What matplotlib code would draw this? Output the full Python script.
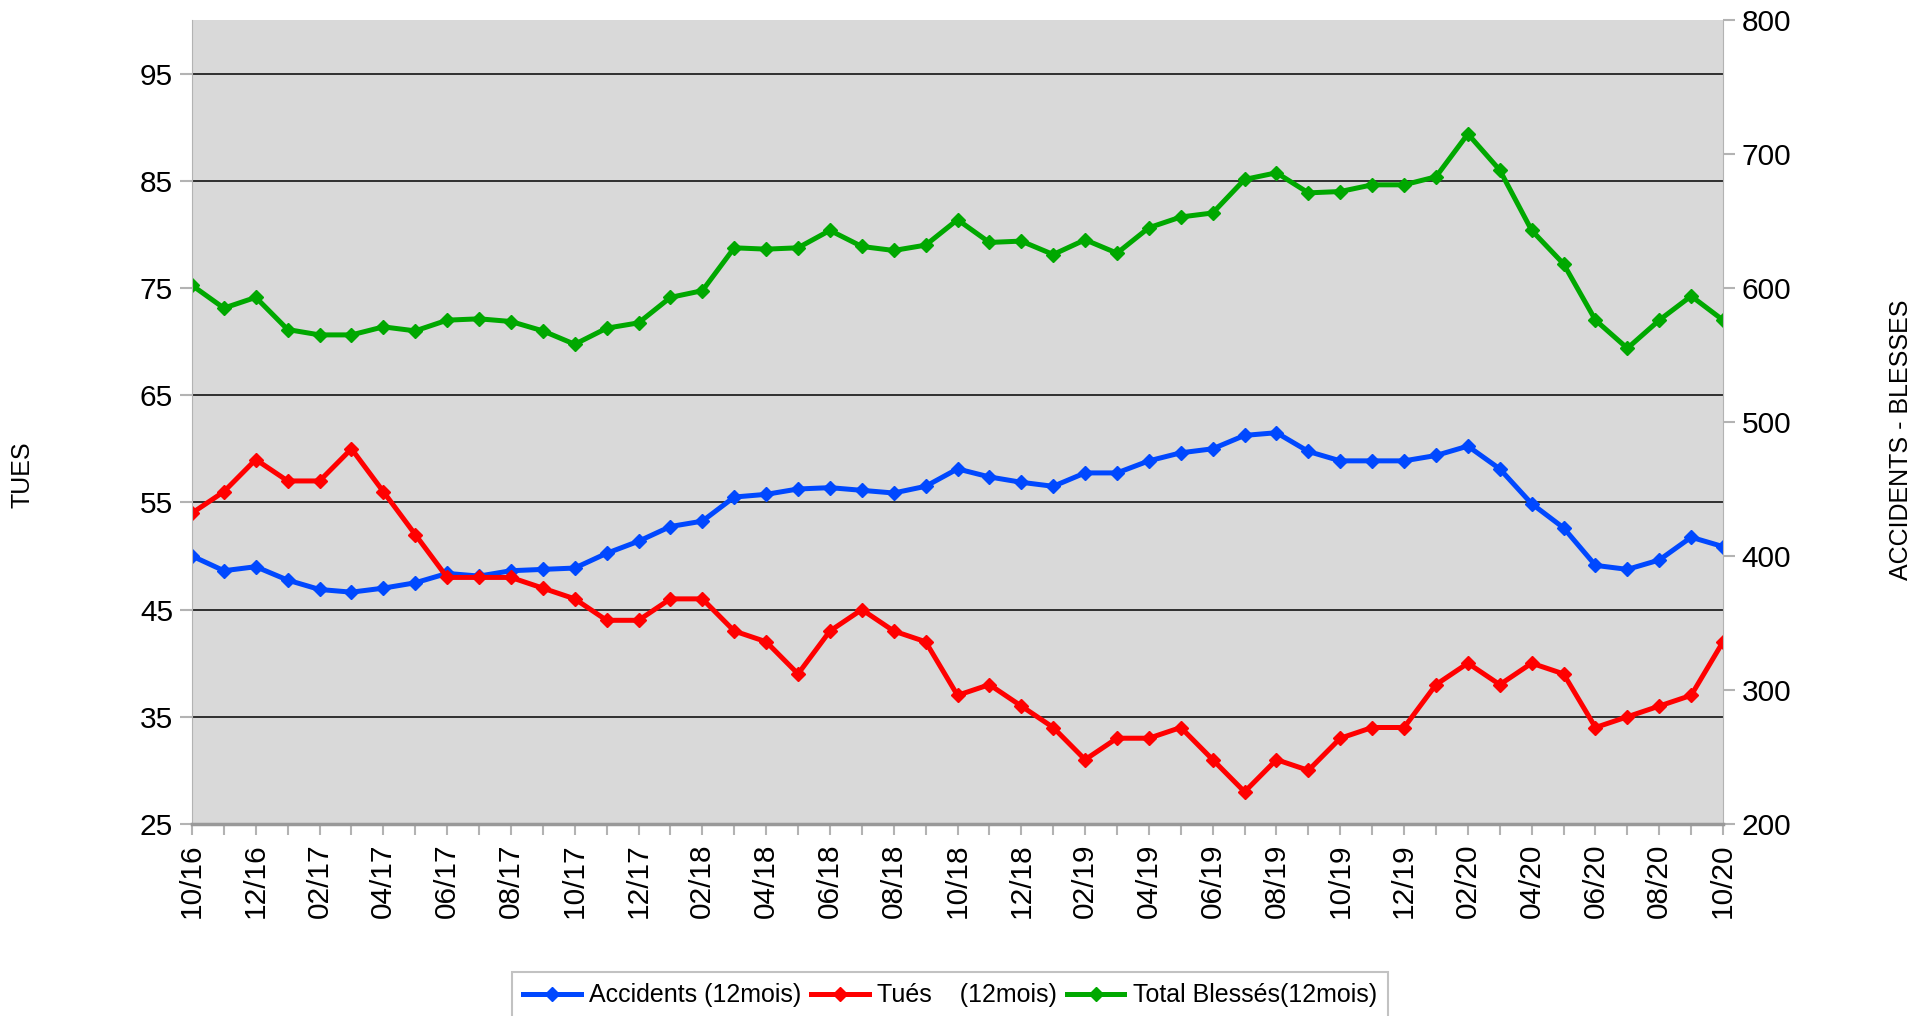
import numpy as np
import pandas as pd
import matplotlib
matplotlib.use('Agg')
import matplotlib.pyplot as plt

plt.rcParams['font.family'] = ['Liberation Sans', 'DejaVu Sans']

# ============================================================
# DONNEES (moyennes glissantes 12 mois)
# ============================================================
mois = list(pd.date_range('2016-10-01', periods=49, freq='MS').strftime('%m/%y'))

accidents = [400, 389, 392, 382, 375, 373, 376, 380, 387, 385, 389, 390, 391,
             402, 411, 422, 426, 444, 446, 450, 451, 449, 447, 452, 465,
             459, 455, 452, 462, 462, 471, 477, 480, 490, 492, 478, 471,
             471, 471, 475, 482, 465, 439, 421, 393, 390, 397, 414, 407]

tues = [54, 56, 59, 57, 57, 60, 56, 52, 48, 48, 48, 47, 46,
        44, 44, 46, 46, 43, 42, 39, 43, 45, 43, 42, 37,
        38, 36, 34, 31, 33, 33, 34, 31, 28, 31, 30, 33,
        34, 34, 38, 40, 38, 40, 39, 34, 35, 36, 37, 42]

blesses = [602, 585, 593, 569, 565, 565, 571, 568, 576, 577, 575, 568, 558,
           570, 574, 593, 598, 630, 629, 630, 643, 631, 628, 632, 651,
           634, 635, 625, 636, 626, 645, 653, 656, 681, 686, 671, 672,
           677, 677, 683, 715, 688, 643, 618, 576, 555, 576, 594, 576]

ticks_tues = [25, 35, 45, 55, 65, 75, 85, 95]
ticks_acc = [200, 300, 400, 500, 600, 700, 800]

# ============================================================
# GRAPHIQUE
# ============================================================
bleu = '#0048ff'
rouge = '#ff0000'
vert = '#00a800'
fond = '#d9d9d9'
gris = '#b3b3b3'

x = np.arange(len(mois))

fig = plt.figure(figsize=(19.16, 10.16), dpi=100)
ax = fig.add_axes([0.1002, 0.189, 0.7991, 0.7913])
ax2 = ax.twinx()

# axe de droite en dessous (fond + grille), axe de gauche au-dessus
ax.set_zorder(ax2.get_zorder() + 1)
ax.patch.set_visible(False)
ax2.patch.set_visible(True)
ax2.set_facecolor(fond)

ax.set_xlim(0, len(mois) - 1)
ax.set_ylim(25, 100)
ax2.set_ylim(200, 800)

# grille alignee sur les graduations de gauche
grille = [200 + (v - 25) * 8 for v in ticks_tues[1:]]
ax2.set_yticks(ticks_acc)
ax2.set_yticks(grille, minor=True)
ax2.grid(True, which='minor', axis='y', color='#222222', linewidth=1.3)
ax2.tick_params(axis='y', which='minor', length=0)

lw = 3.6
ms = 7.5
l_acc, = ax2.plot(x, accidents, color=bleu, linewidth=lw, marker='D', markersize=ms,
                  label='Accidents (12mois)')
l_bl, = ax2.plot(x, blesses, color=vert, linewidth=lw, marker='D', markersize=ms,
                 label='Total Blessés(12mois)')
l_tues, = ax.plot(x, tues, color=rouge, linewidth=lw, marker='D', markersize=ms,
                  label='Tués    (12mois)')

ax.set_yticks(ticks_tues)
ax.set_xticks(x[::2])
ax.set_xticklabels(mois[::2], rotation=90)
ax.set_xticks(x, minor=True)

ax.tick_params(axis='x', which='both', length=8, width=1.5, color=gris,
               labelsize=21.5, pad=6)
ax.tick_params(axis='y', length=8.5, width=1.5, color=gris, labelsize=21.5, pad=5)
ax2.tick_params(axis='y', which='major', length=8.5, width=1.5, color=gris,
                labelsize=21.5, pad=5)

ax.spines['top'].set_visible(False)
ax.spines['left'].set_color(gris)
ax.spines['right'].set_color(gris)
ax.spines['bottom'].set_color('#999999')
ax.spines['bottom'].set_linewidth(2.5)
for s in ['top', 'left', 'right', 'bottom']:
    ax2.spines[s].set_visible(False)

fig.text(0.012, 0.533, 'TUES', rotation=90, ha='center', va='center', fontsize=18)
fig.text(0.992, 0.567, 'ACCIDENTS - BLESSES', rotation=90, ha='center', va='center',
         fontsize=18)

leg = fig.legend(handles=[l_acc, l_tues, l_bl], loc='upper center', ncol=3,
                 bbox_to_anchor=(0.4958, 0.0433), borderaxespad=0, fontsize=18,
                 frameon=True, fancybox=False, edgecolor=gris, handlelength=2.3,
                 handletextpad=0.33, columnspacing=0.4, borderpad=0.45)
leg.get_frame().set_linewidth(1.5)

plt.savefig('out.png', dpi=100)
